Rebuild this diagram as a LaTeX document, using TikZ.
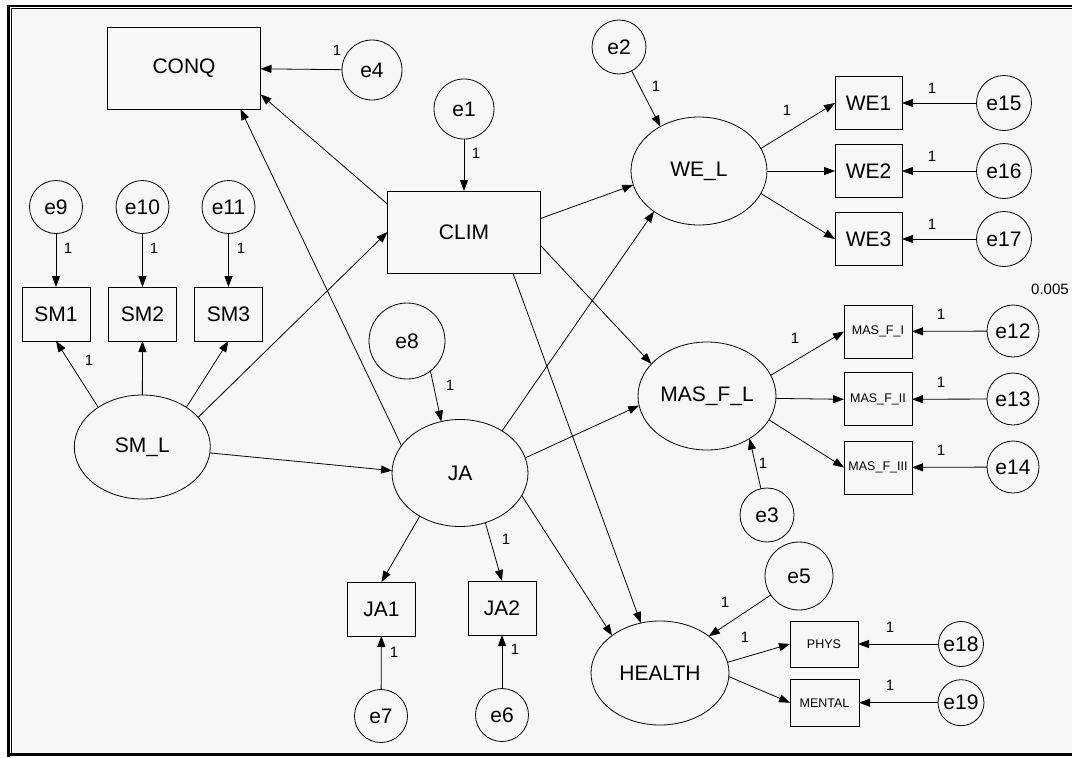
\documentclass[tikz,border=0pt]{standalone}
\usepackage{fontspec}
\setmainfont{Liberation Sans}
\usetikzlibrary{arrows.meta,shapes.geometric}
\definecolor{canvas}{HTML}{F7F7F7}
\begin{document}
\begin{tikzpicture}[x=1pt,y=-1pt,
  every node/.style={inner sep=0pt, outer sep=0pt},
  big/.style={font=\fontsize{21}{25}\selectfont},
  obs/.style={draw, rectangle, line width=0.8pt, big},
  lat/.style={draw, ellipse, line width=0.8pt, minimum width=136pt, minimum height=108pt, big},
  err/.style={draw, circle, line width=0.8pt, minimum size=#1, big},
  err/.default=54pt,
  tiny/.style={font=\fontsize{12.5}{15}\selectfont},
  wt/.style={font=\fontsize{15}{18}\selectfont},
  link/.style={line width=0.8pt, -{Triangle[length=11pt,width=8pt]}},
]
\useasboundingbox (0,0) rectangle (1072,758);
% frame and canvas
\fill[white] (0,0) rectangle (1072,758);
\fill[canvas] (12,9.5) rectangle (1072,752.5);
\draw[line width=2.7pt] (8.7,757) -- (8.7,6) -- (1072,6);
\draw[line width=1.1pt] (11.5,753) -- (11.5,8.8) -- (1072,8.8);
\draw[line width=3.5pt] (7.3,754.5) -- (1072,754.5);

% observed variables
\node[obs, minimum width=153pt, minimum height=82pt] (CONQ) at (184,68) {CONQ};
\node[obs, minimum width=153pt, minimum height=82pt] (CLIM) at (464,232) {CLIM};
\node[obs, minimum width=67pt, minimum height=53pt] (WE1) at (868.5,103) {WE1};
\node[obs, minimum width=67pt, minimum height=53pt] (WE2) at (868.5,171) {WE2};
\node[obs, minimum width=67pt, minimum height=53pt] (WE3) at (868.5,239) {WE3};
\node[obs, minimum width=68pt, minimum height=54pt] (SM1) at (56,314) {SM1};
\node[obs, minimum width=68pt, minimum height=54pt] (SM2) at (142.5,314) {SM2};
\node[obs, minimum width=68pt, minimum height=54pt] (SM3) at (228.5,314) {SM3};
\node[obs, minimum width=68pt, minimum height=54pt] (JA1) at (381.5,609) {JA1};
\node[obs, minimum width=68pt, minimum height=54pt] (JA2) at (502,608) {JA2};
\node[obs, tiny, minimum width=68pt, minimum height=53pt] (MFI) at (878,331.5) {MAS\_F\_I};
\node[obs, tiny, minimum width=68pt, minimum height=53pt] (MFII) at (878,399.3) {MAS\_F\_II};
\node[obs, tiny, minimum width=68pt, minimum height=53pt] (MFIII) at (878,467.5) {MAS\_F\_III};
\node[obs, tiny, minimum width=68pt, minimum height=46pt] (PHYS) at (824,644) {PHYS};
\node[obs, tiny, minimum width=69pt, minimum height=47pt] (MENTAL) at (824.5,702.7) {MENTAL};

% latent variables
\node[lat] (WEL) at (699,171) {WE\_L};
\node[lat, minimum height=104pt] (SML) at (142.3,447) {SM\_L};
\node[lat, minimum height=107pt] (JA) at (460,473) {JA};
\node[lat, minimum width=138pt] (MFL) at (707,396) {MAS\_F\_L};
\node[lat, minimum width=138pt, minimum height=104pt] (HEALTH) at (660,673) {HEALTH};

% error terms
\node[err=60pt] (e4) at (372,70) {e4};
\node[err=60pt] (e1) at (464,109) {e1};
\node[err] (e2) at (619,47) {e2};
\node[err=55pt] (e15) at (1004,103) {e15};
\node[err=55pt] (e16) at (1004,171) {e16};
\node[err=55pt] (e17) at (1004,239) {e17};
\node[err=53pt] (e9) at (56,207) {e9};
\node[err=53pt] (e10) at (142.5,207) {e10};
\node[err=53pt] (e11) at (228.5,207) {e11};
\node[err=76pt] (e8) at (407,341) {e8};
\node[err=53pt] (e7) at (381,716) {e7};
\node[err=53pt] (e6) at (502,715) {e6};
\node[err=52pt] (e12) at (1013,331) {e12};
\node[err=52pt] (e13) at (1013,399) {e13};
\node[err=52pt] (e14) at (1013,467) {e14};
\node[err] (e3) at (767,515) {e3};
\node[err=68pt] (e5) at (799,576) {e5};
\node[err=45pt] (e18) at (961,644) {e18};
\node[err=46pt] (e19) at (961,702.7) {e19};

\node[wt] (var) at (1050,289) {0.005};

% paths
\draw[link] (e4) -- (CONQ);
\draw[link] (CLIM.160.5) -- (CONQ.-19.4);
\draw[link] (JA.155.3) -- (CONQ.-36.4);
\draw[link] (e1) -- (CLIM);
\draw[link] (SML.28.4) -- (CLIM.west);
\draw[link] (e2.-62.2) -- (WEL.131.6);
\draw[link] (CLIM.10.6) -- (WEL.192.5);
\draw[link] (JA.45) -- (WEL.222);
\draw[link] (WEL.20) -- (WE1.west);
\draw[link] (WEL.east) -- (WE2.west);
\draw[link] (WEL.-20) -- (WE3.west);
\draw[link] (e15) -- (WE1);
\draw[link] (e16) -- (WE2);
\draw[link] (e17) -- (WE3);
\draw[link] (e9) -- (SM1);
\draw[link] (e10) -- (SM2);
\draw[link] (e11) -- (SM3);
\draw[link] (SML.138) -- (SM1.south);
\draw[link] (SML) -- (SM2);
\draw[link] (SML.42) -- (SM3.south);
\draw[link] (SML.-5) -- (JA.178);
\draw[link] (e8.-52) -- (JA.110);
\draw[link] (JA.227) -- (JA1.north);
\draw[link] (JA.-63) -- (JA2.north);
\draw[link] (e7) -- (JA1);
\draw[link] (e6) -- (JA2);
\draw[link] (CLIM.-10.9) -- (MFL.150);
\draw[link] (JA.13.4) -- (MFL.188);
\draw[link] (e3.103) -- (MFL.-45);
\draw[link] (MFL.18) -- (MFI.west);
\draw[link] (MFL.-2.7) -- (MFII.west);
\draw[link] (MFL.-21) -- (MFIII.west);
\draw[link] (e12) -- (MFI);
\draw[link] (e13) -- (MFII);
\draw[link] (e14) -- (MFIII);
\draw[link] (CLIM.-40.7) -- (HEALTH.111.7);
\draw[link] (JA.-20.7) -- (HEALTH.142.9);
\draw[link] (e5.214.6) -- (HEALTH.37.1);
\draw[link] (HEALTH.9.6) -- (PHYS.west);
\draw[link] (HEALTH.-3) -- (MENTAL.west);
\draw[link] (e18) -- (PHYS);
\draw[link] (e19) -- (MENTAL);

% fixed weights
\node[wt] (w1) at (337,50) {1};
\node[wt] (w2) at (476,153) {1};
\node[wt] (w3) at (656,86) {1};
\node[wt] (w4) at (787,110) {1};
\node[wt] (w5) at (932,88) {1};
\node[wt] (w6) at (932,156) {1};
\node[wt] (w7) at (932,224) {1};
\node[wt] (w8) at (68,248) {1};
\node[wt] (w9) at (154,248) {1};
\node[wt] (w10) at (241,248) {1};
\node[wt] (w11) at (89,360) {1};
\node[wt] (w12) at (450,385) {1};
\node[wt] (w13) at (506,539) {1};
\node[wt] (w14) at (394,652) {1};
\node[wt] (w15) at (515,649) {1};
\node[wt] (w16) at (795,338) {1};
\node[wt] (w17) at (941,314) {1};
\node[wt] (w18) at (941,382) {1};
\node[wt] (w19) at (941,450) {1};
\node[wt] (w20) at (763,463) {1};
\node[wt] (w21) at (725,602) {1};
\node[wt] (w22) at (745,637) {1};
\node[wt] (w23) at (890,627) {1};
\node[wt] (w24) at (890,685) {1};
\end{tikzpicture}
\end{document}
